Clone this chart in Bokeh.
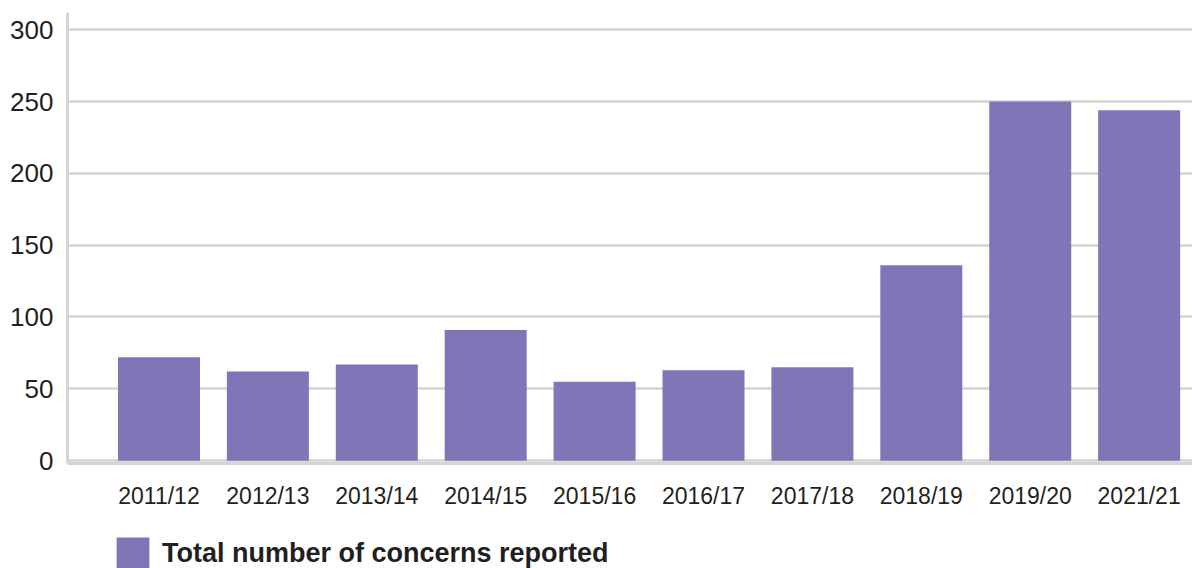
from bokeh.plotting import figure
from bokeh.layouts import column
from bokeh.models import Range1d, FixedTicker, Legend, LegendItem, ColumnDataSource
from bokeh.embed import file_html
from bokeh.resources import INLINE

# ---- data ----
years = ["2011/12", "2012/13", "2013/14", "2014/15", "2015/16",
         "2016/17", "2017/18", "2018/19", "2019/20", "2021/21"]
concerns = [72, 62, 67, 91, 55, 63, 65, 136, 250, 244]
y_ticks = [0, 50, 100, 150, 200, 250, 300]
series_name = "Total number of concerns reported"

BAR = "#8076b7"
GRID = "#d4d4d4"
TXT = "#231f20"

xs = list(range(len(years)))
src = ColumnDataSource(dict(x=xs, top=concerns, year=years))

p = figure(width=1192, height=519, output_backend="svg", toolbar_location=None,
           x_range=Range1d(-0.84, 9.49), y_range=Range1d(-2, 312),
           min_border_left=67, min_border_right=0, min_border_top=12,
           min_border_bottom=56)
p.outline_line_color = None
p.background_fill_color = "white"

r = p.vbar(x="x", top="top", bottom=0, width=0.753, source=src,
           fill_color=BAR, line_color=None)

# grid
p.xgrid.visible = False
p.ygrid.ticker = FixedTicker(ticks=y_ticks)
p.ygrid.grid_line_color = GRID
p.ygrid.grid_line_width = 2.5

# y axis
p.yaxis.ticker = FixedTicker(ticks=y_ticks)
p.yaxis.axis_line_color = GRID
p.yaxis.axis_line_width = 3
p.yaxis.major_tick_line_color = None
p.yaxis.minor_tick_line_color = None
p.yaxis.major_tick_out = 0
p.yaxis.major_label_standoff = 14
p.yaxis.major_label_text_font = "Liberation Sans"
p.yaxis.major_label_text_font_size = "26px"
p.yaxis.major_label_text_color = TXT

# x axis
p.xaxis.ticker = FixedTicker(ticks=xs)
p.xaxis.major_label_overrides = {i: y for i, y in zip(xs, years)}
p.xaxis.axis_line_color = GRID
p.xaxis.axis_line_width = 3
p.xaxis.major_tick_line_color = None
p.xaxis.minor_tick_line_color = None
p.xaxis.major_tick_out = 0
p.xaxis.major_label_standoff = 19
p.xaxis.major_label_text_font = "Liberation Sans"
p.xaxis.major_label_text_font_size = "23px"
p.xaxis.major_label_text_color = TXT

# ---- legend strip (separate small figure under the chart) ----
# key renderer uses the same data, but this strip's x range lies away from it,
# so only the legend swatch is visible here
q = figure(width=1192, height=49, output_backend="svg", toolbar_location=None,
           x_range=Range1d(-30, -29), y_range=Range1d(0, 1),
           x_axis_location=None, y_axis_location=None,
           min_border=0, min_border_left=0, min_border_right=0,
           min_border_top=0, min_border_bottom=0)
q.outline_line_color = None
q.grid.visible = False
key = q.vbar(x="x", top="top", bottom=0, width=0.753, source=src,
             fill_color=BAR, line_color=None)

legend = Legend(items=[LegendItem(label=series_name, renderers=[key])],
                location=(45, -6), orientation="horizontal",
                glyph_width=41, glyph_height=41, label_standoff=9,
                label_text_font="Liberation Sans", label_text_font_style="bold",
                label_text_font_size="27px", label_text_color=TXT,
                padding=0, margin=0, spacing=0,
                border_line_color=None, background_fill_alpha=0)
q.add_layout(legend)

layout = column(p, q, spacing=0)
open("out.html", "w").write(file_html(layout, INLINE))
